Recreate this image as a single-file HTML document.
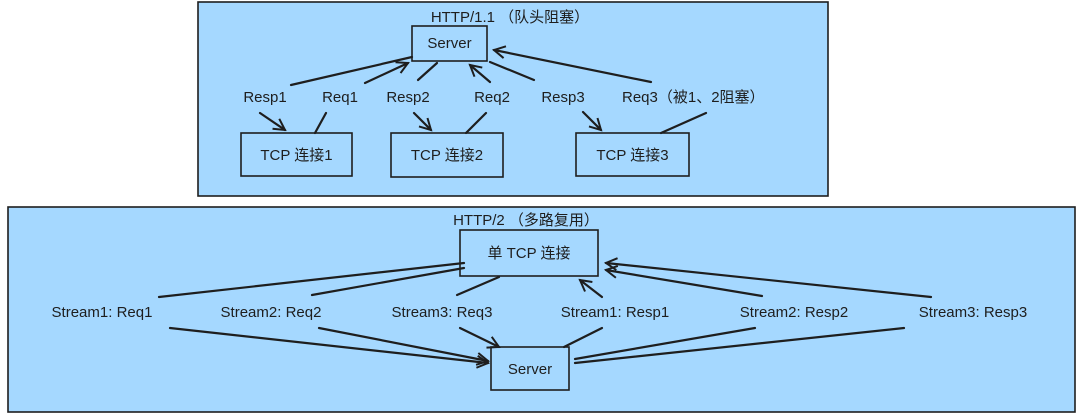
<!DOCTYPE html>
<html><head><meta charset="utf-8"><style>
html,body{margin:0;padding:0;background:#fff;}
svg{display:block;}
text{font-family:"Liberation Sans","Noto Sans CJK SC",sans-serif;font-size:15px;fill:#1e1e1e;}
</style></head><body>
<svg width="1080" height="415" viewBox="0 0 1080 415" xmlns="http://www.w3.org/2000/svg">
<defs>
<marker id="a" markerWidth="14" markerHeight="14" refX="12" refY="7" orient="auto" markerUnits="userSpaceOnUse">
<path d="M1 1 L12 7 L1 13" fill="none" stroke="#1e1e1e" stroke-width="2"/>
</marker>
</defs>
<g stroke="#1e1e1e" stroke-width="1.6" fill="#a5d8ff">
<rect x="198" y="2" width="630" height="194"/>
<rect x="8" y="207" width="1067" height="205"/>
<rect x="412" y="26" width="75" height="35"/>
<rect x="241" y="133" width="111" height="43"/>
<rect x="391" y="133" width="112" height="44"/>
<rect x="576" y="133" width="113" height="43"/>
<rect x="460" y="230" width="138" height="46"/>
<rect x="491" y="347" width="78" height="43"/>
</g>
<g stroke="#1e1e1e" stroke-width="2.2" fill="none" stroke-linecap="round">
<line x1="291" y1="85" x2="412" y2="57"/>
<line x1="365" y1="83" x2="408" y2="63" marker-end="url(#a)"/>
<line x1="418" y1="80" x2="437" y2="63"/>
<line x1="490" y1="82" x2="470" y2="65" marker-end="url(#a)"/>
<line x1="490" y1="62" x2="534" y2="80"/>
<line x1="651" y1="82" x2="494" y2="50" marker-end="url(#a)"/>
<line x1="260" y1="113" x2="285" y2="130" marker-end="url(#a)"/>
<line x1="326" y1="113" x2="315" y2="133"/>
<line x1="414" y1="113" x2="431" y2="130" marker-end="url(#a)"/>
<line x1="486" y1="113" x2="466" y2="133"/>
<line x1="583" y1="112" x2="601" y2="130" marker-end="url(#a)"/>
<line x1="706" y1="113" x2="661" y2="133"/>

<line x1="159" y1="297" x2="464" y2="263"/>
<line x1="312" y1="295" x2="464" y2="268"/>
<line x1="457" y1="295" x2="499" y2="277"/>
<line x1="602" y1="297" x2="580" y2="280" marker-end="url(#a)"/>
<line x1="762" y1="296" x2="606" y2="270" marker-end="url(#a)"/>
<line x1="931" y1="297" x2="606" y2="263" marker-end="url(#a)"/>
<line x1="170" y1="328" x2="488" y2="363" marker-end="url(#a)"/>
<line x1="319" y1="328" x2="488" y2="361" marker-end="url(#a)"/>
<line x1="460" y1="328" x2="499" y2="347" marker-end="url(#a)"/>
<line x1="602" y1="328" x2="564" y2="347"/>
<line x1="755" y1="328" x2="575" y2="359"/>
<line x1="904" y1="328" x2="575" y2="363"/>
</g>
<g>
<text x="510" y="22" text-anchor="middle">HTTP/1.1 （队头阻塞）</text>
<text x="449.5" y="48" text-anchor="middle">Server</text>
<text x="265" y="102" text-anchor="middle">Resp1</text>
<text x="340" y="102" text-anchor="middle">Req1</text>
<text x="408" y="102" text-anchor="middle">Resp2</text>
<text x="492" y="102" text-anchor="middle">Req2</text>
<text x="563" y="102" text-anchor="middle">Resp3</text>
<text x="622" y="102">Req3（被1、2阻塞）</text>
<text x="296.5" y="160" text-anchor="middle">TCP 连接1</text>
<text x="447" y="160" text-anchor="middle">TCP 连接2</text>
<text x="632.5" y="160" text-anchor="middle">TCP 连接3</text>
<text x="526" y="225" text-anchor="middle">HTTP/2 （多路复用）</text>
<text x="529" y="258" text-anchor="middle">单 TCP 连接</text>
<text x="102" y="317" text-anchor="middle">Stream1: Req1</text>
<text x="271" y="317" text-anchor="middle">Stream2: Req2</text>
<text x="442" y="317" text-anchor="middle">Stream3: Req3</text>
<text x="615" y="317" text-anchor="middle">Stream1: Resp1</text>
<text x="794" y="317" text-anchor="middle">Stream2: Resp2</text>
<text x="973" y="317" text-anchor="middle">Stream3: Resp3</text>
<text x="530" y="374" text-anchor="middle">Server</text>
</g>
</svg>
</body></html>
